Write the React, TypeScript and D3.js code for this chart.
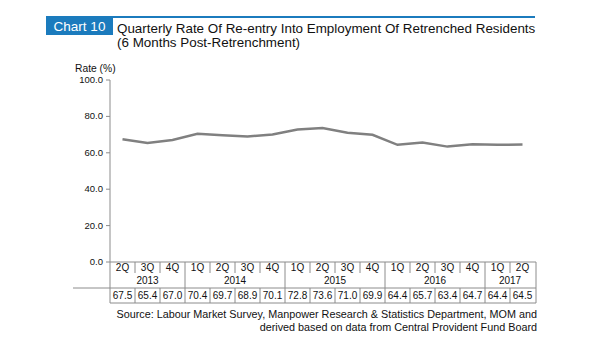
import React from 'react';
import * as d3 from 'd3';

const quarters = ['2Q', '3Q', '4Q', '1Q', '2Q', '3Q', '4Q', '1Q', '2Q', '3Q', '4Q', '1Q', '2Q', '3Q', '4Q', '1Q', '2Q'];
const quarterYears = ['2013', '2013', '2013', '2014', '2014', '2014', '2014', '2015', '2015', '2015', '2015', '2016', '2016', '2016', '2016', '2017', '2017'];
const rates = [67.5, 65.4, 67.0, 70.4, 69.7, 68.9, 70.1, 72.8, 73.6, 71.0, 69.9, 64.4, 65.7, 63.4, 64.7, 64.4, 64.5];
const yTicks = [0, 20, 40, 60, 80, 100];

const font = '"Liberation Sans", Arial, sans-serif';
const gridColor = '#8c8c8c';

const App = () => {
  const left = 110;
  const right = 535;
  const top = 80;
  const bottom = 262;
  const rowQ = 273;
  const rowY = 288;
  const rowEnd = 303;

  const x = d3.scaleBand<number>()
    .domain(quarters.map((_, i) => i))
    .range([left, right])
    .padding(0);

  const y = d3.scaleLinear()
    .domain([0, 100])
    .range([bottom, top]);

  const line = d3.line<number>()
    .x((_, i) => (x(i) as number) + x.bandwidth() / 2)
    .y(d => y(d));

  // group consecutive quarters by year
  const yearGroups: { year: string; start: number; end: number }[] = [];
  quarterYears.forEach((yr, i) => {
    const last = yearGroups[yearGroups.length - 1];
    if (last && last.year === yr) last.end = i;
    else yearGroups.push({ year: yr, start: i, end: i });
  });

  const bw = x.bandwidth();

  return (
    <svg width={600} height={360} style={{ position: 'absolute', left: 0, top: 0, fontFamily: font }}>
      <rect x={0} y={0} width={600} height={360} fill="#fff" />

      {/* header */}
      <line x1={46} x2={535} y1={17} y2={17} stroke="#1b7bbd" strokeWidth={2} />
      <rect x={46} y={16} width={67} height={19} fill="#1b7bbd" />
      <text x={79.5} y={31} fill="#fff" fontSize={13.5} textAnchor="middle">Chart 10</text>
      <text x={117} y={33} fontSize={13.4} fill="#111">Quarterly Rate Of Re-entry Into Employment Of Retrenched Residents</text>
      <text x={117} y={47} fontSize={13.4} fill="#111">(6 Months Post-Retrenchment)</text>

      {/* y axis */}
      <text x={75} y={72} fontSize={10.3} fill="#111">Rate (%)</text>
      <line x1={left} x2={left} y1={top} y2={rowEnd} stroke={gridColor} />
      {yTicks.map(t => (
        <g key={t}>
          <line x1={left - 4} x2={left} y1={y(t)} y2={y(t)} stroke={gridColor} />
          <text x={left - 7} y={y(t) + 3} fontSize={9.5} textAnchor="end" fill="#111">{t.toFixed(1)}</text>
        </g>
      ))}

      {/* table */}
      <line x1={left} x2={right + 1} y1={bottom} y2={bottom} stroke={gridColor} />
      <line x1={73} x2={right + 1} y1={rowY} y2={rowY} stroke={gridColor} />
      <line x1={left} x2={right + 1} y1={rowEnd} y2={rowEnd} stroke={gridColor} />
      <line x1={right + 1} x2={right + 1} y1={bottom} y2={rowEnd} stroke={gridColor} />
      {quarters.map((q, i) => {
        const cx = (x(i) as number) + bw / 2;
        const isYearStart = i > 0 && quarterYears[i] !== quarterYears[i - 1];
        return (
          <g key={i}>
            {i > 0 && (
              <line x1={x(i)} x2={x(i)} y1={bottom} y2={isYearStart ? rowY : rowQ} stroke={gridColor} />
            )}
            {i > 0 && <line x1={x(i)} x2={x(i)} y1={rowY} y2={rowEnd} stroke={gridColor} />}
            <text x={cx} y={271} fontSize={10} textAnchor="middle" fill="#111">{q}</text>
            <text x={cx} y={299} fontSize={10} textAnchor="middle" fill="#111">{rates[i].toFixed(1)}</text>
          </g>
        );
      })}
      {yearGroups.map(g => (
        <text key={g.year} x={((x(g.start) as number) + (x(g.end) as number) + bw) / 2} y={284}
          fontSize={10} textAnchor="middle" fill="#111">{g.year}</text>
      ))}

      {/* series */}
      <path d={line(rates) || ''} fill="none" stroke="#808080" strokeWidth={2.5} />

      {/* source */}
      <text x={537} y={318} fontSize={10.8} textAnchor="end" fill="#111">Source: Labour Market Survey, Manpower Research &amp; Statistics Department, MOM and</text>
      <text x={537} y={331} fontSize={10.8} textAnchor="end" fill="#111">derived based on data from Central Provident Fund Board</text>
    </svg>
  );
};

export default App;
